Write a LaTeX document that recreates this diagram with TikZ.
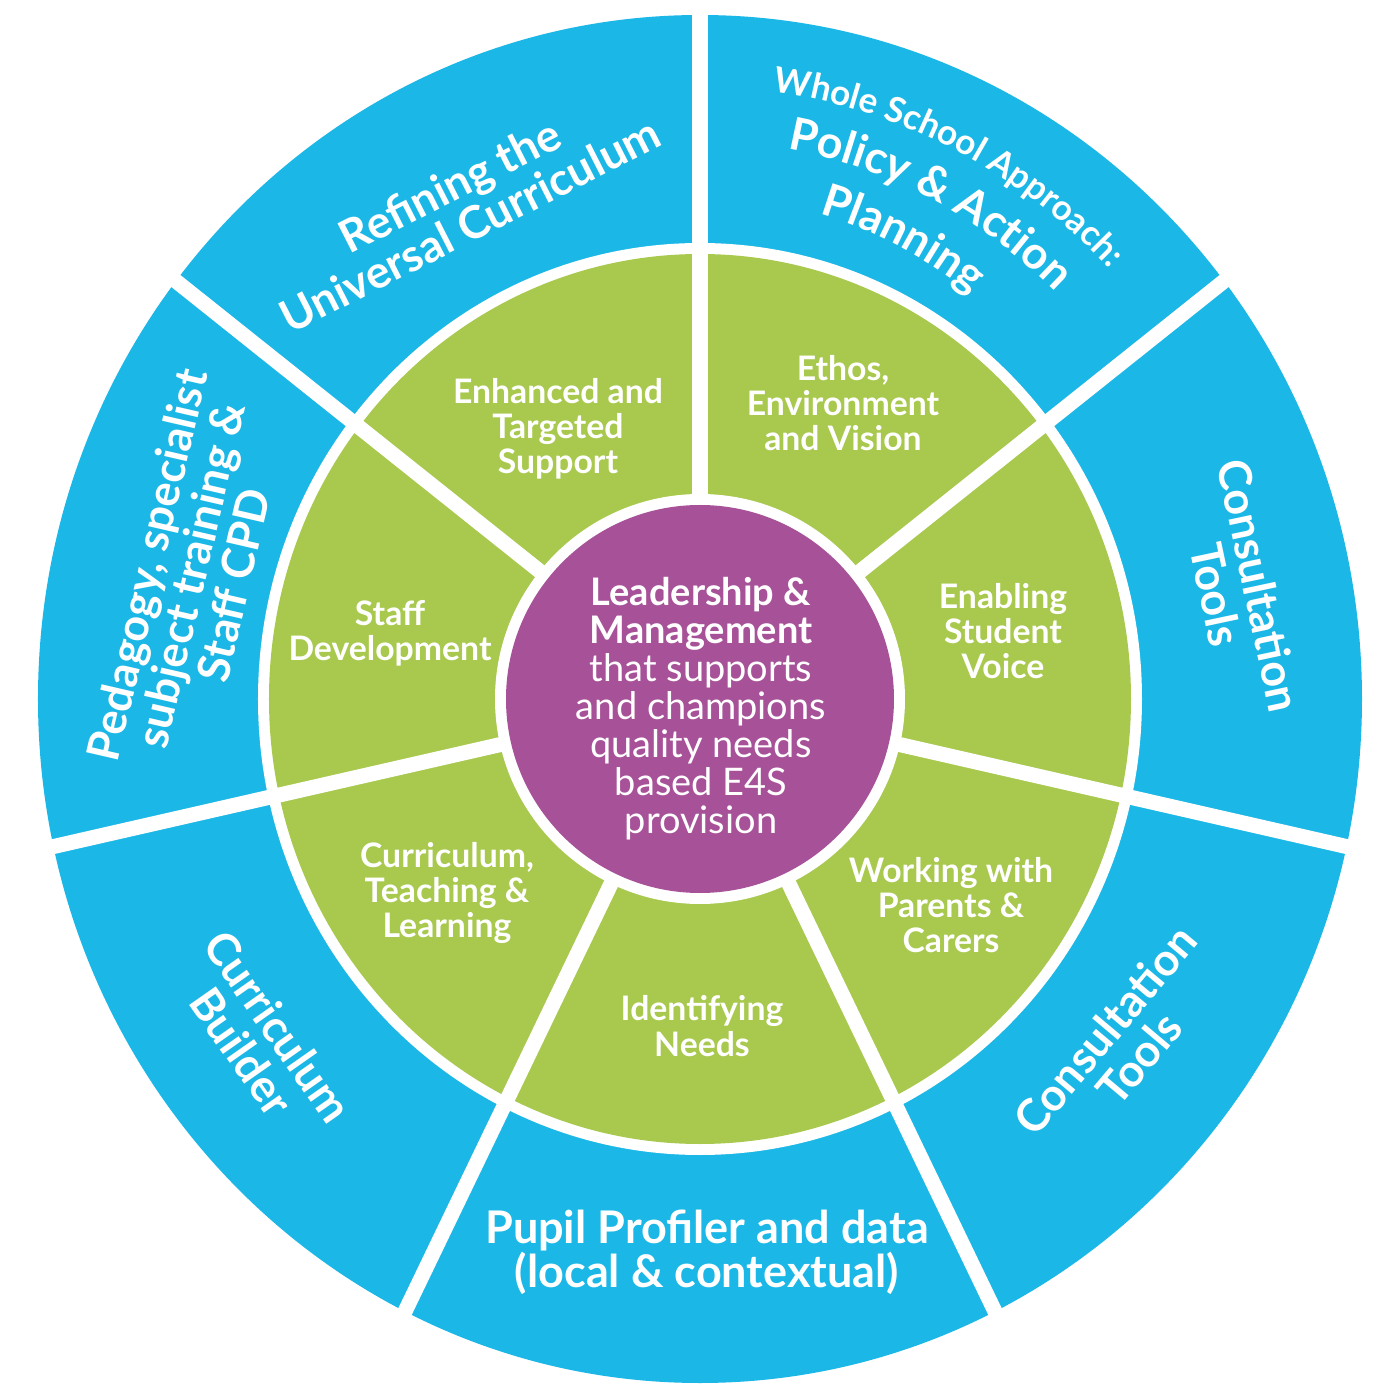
\documentclass[tikz,border=0pt]{standalone}
\usepackage{fontspec}
\setmainfont{Lato}
\usetikzlibrary{decorations.text}

\definecolor{wheelblue}{RGB}{27,183,230}
\definecolor{wheelgreen}{RGB}{168,201,78}
\definecolor{wheelpurple}{RGB}{167,82,152}

\tikzset{
  inner label/.style={text=white, align=center, inner sep=0pt,
    font=\bfseries\fontsize{9.6}{10}\selectfont},
  outer label/.style={text=white, align=center, inner sep=0pt,
    font=\bfseries\fontsize{12.8}{12.6}\selectfont},
  core label/.style={text=white, align=center, inner sep=0pt,
    font=\fontsize{10.8}{10.8}\selectfont},
  spoke/.style={white, line width=0.15cm},
  arc text/.style={decorate, decoration={text along path, text align=center,
    text color=white, text={#1}}},
}

\begin{document}
\begin{tikzpicture}[x=0.01cm, y=0.01cm]
\useasboundingbox (-700,-701) rectangle (700,699);

% rings
\fill[wheelblue] (0,0) ellipse [x radius=662, y radius=684];
\fill[white] (0,0) ellipse [x radius=442, y radius=456];
\fill[wheelgreen] (0,0) ellipse [x radius=431, y radius=445];

% spokes
\foreach \a in {0,...,6}
  \draw[spoke] (0,0) -- (90+\a*51.4286:720);

\fill[white] (0,0) circle (205);
\fill[wheelpurple] (0,0) circle (194);

% centre
\node[core label] (core) at (1,-10) {\textbf{Leadership \&}\\\textbf{Management}\\that supports\\and champions\\quality needs\\based E4S\\provision};

% inner ring
\node[inner label] (support) at (-142,270) {Enhanced and\\Targeted\\Support};
\node[inner label] (ethos) at (143,296) {Ethos,\\Environment\\and Vision};
\node[inner label] (voice) at (303,68) {Enabling\\Student\\Voice};
\node[inner label] (parents) at (251,-206) {Working with\\Parents \&\\Carers};
\node[inner label] (needs) at (2,-327) {Identifying\\Needs};
\node[inner label] (teaching) at (-253,-194) {Curriculum,\\Teaching \&\\Learning};
\node[inner label] (staff) at (-310,66) {Staff\\Development};

% outer ring
\node[outer label, rotate=27] (universal) at (-240,494) {Refining the\\Universal Curriculum};
\node[outer label, rotate=-78] (consultA) at (538,109) {Consultation\\Tools};
\node[outer label, rotate=50] (consultB) at (422,-345) {Consultation\\Tools};
\node[outer label] (profiler) at (7,-553) {Pupil Profiler and data\\(local \& contextual)};
\node[outer label, rotate=-55] (builder) at (-440,-340) {Curriculum\\Builder};
\node[outer label, rotate=77] (pedagogy) at (-510,124) {Pedagogy, specialist\\subject training \&\\Staff CPD};

\path[arc text={|\bfseries\fontsize{10}{10}\selectfont|Whole School Approach:}]
  (99:575 and 612) arc [start angle=99, end angle=29, x radius=575, y radius=612];
\path[arc text={|\bfseries\fontsize{12.8}{12.8}\selectfont|Policy {\&} Action}]
  (99:520 and 558) arc [start angle=99, end angle=29, x radius=520, y radius=558];
\path[arc text={|\bfseries\fontsize{12.8}{12.8}\selectfont|Planning}]
  (100:460 and 502) arc [start angle=100, end angle=30, x radius=460, y radius=502];
\end{tikzpicture}
\end{document}
